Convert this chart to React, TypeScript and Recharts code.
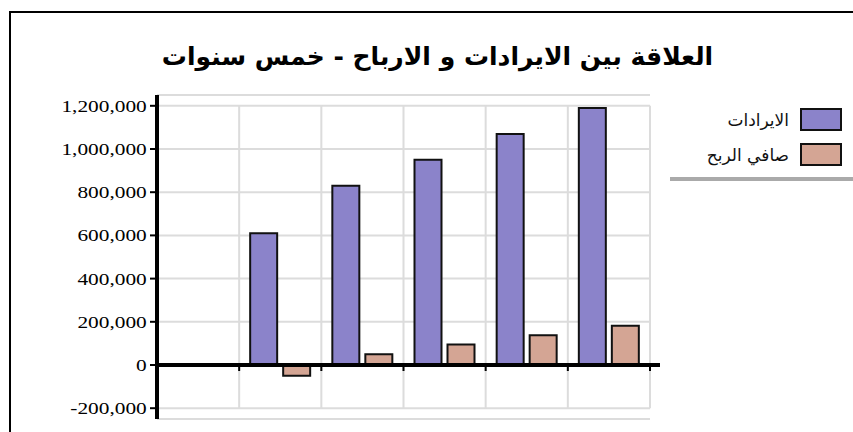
import { BarChart, Bar, XAxis, YAxis, CartesianGrid, ReferenceLine } from "recharts";

const years = ["0", "1", "2", "3", "4", "5"];
const revenue = [null, 610000, 830000, 950000, 1070000, 1190000];
const netProfit = [null, -50000, 50000, 95000, 138000, 182000];
const yTicks = [-200000, 0, 200000, 400000, 600000, 800000, 1000000, 1200000];
const yDomain = [-250000, 1250000];

const TITLE = "العلاقة بين الايرادات و الارباح - خمس سنوات";
const REVENUE_LABEL = "الايرادات";
const PROFIT_LABEL = "صافي الربح";

const PURPLE = "#8b83ca";
const SALMON = "#d4a594";
const GRID = "#dcdcdc";
const ARABIC_FONT = "'DejaVu Sans', sans-serif";

const data = years.map((y, i) => ({ year: y, revenue: revenue[i], profit: netProfit[i] }));

const fmt = (v: number) => v.toLocaleString("en-US");

// category boundaries (grid lines + x ticks sit between the bars groups)
const boundaryXs = (left: number, width: number) =>
  years.map((_, i) => left + ((i + 1) * width) / years.length);

function YTick({ x, y, payload }: any) {
  // labels in the reference are wider than plain Times, so stretch them a bit
  return (
    <text
      x={x}
      y={y}
      dx={-1}
      dy={6}
      textAnchor="end"
      fontFamily="'Liberation Serif', serif"
      fontSize={17.5}
      fill="#000"
      transform={`translate(${x},0) scale(1.22,1) translate(${-x},0)`}
    >
      {fmt(payload.value)}
    </text>
  );
}

// vertical grid only spans the ticked range, not the padded domain
function VLine({ x1, y1, x2, y2 }: any) {
  const span = yDomain[1] - yDomain[0];
  const top = y1 + ((yDomain[1] - yTicks[yTicks.length - 1]) / span) * (y2 - y1);
  const bottom = y2 - ((yTicks[0] - yDomain[0]) / span) * (y2 - y1);
  return <line x1={x1} y1={top} x2={x2} y2={bottom} stroke={GRID} strokeWidth={2} />;
}

function ZeroAxis({ x1, y1, x2 }: any) {
  return (
    <g>
      <line x1={x1} y1={y1} x2={x2 + 10} y2={y1} stroke="#000" strokeWidth={4} />
      {boundaryXs(x1, x2 - x1).map((bx) => (
        <line key={bx} x1={bx} y1={y1} x2={bx} y2={y1 + 6} stroke="#000" strokeWidth={2} />
      ))}
    </g>
  );
}

function LegendBox() {
  const rows = [
    { label: REVENUE_LABEL, color: PURPLE },
    { label: PROFIT_LABEL, color: SALMON },
  ];
  return (
    <div style={{ position: "absolute", top: 100, left: 660, width: 193, fontFamily: ARABIC_FONT }}>
      {rows.map((r, i) => (
        <div
          key={r.label}
          style={{
            display: "flex",
            justifyContent: "flex-end",
            alignItems: "center",
            marginTop: i === 0 ? 8 : 12,
            paddingRight: 11,
          }}
        >
          <span style={{ fontSize: 17, color: "#111", marginRight: 11, direction: "rtl" }}>{r.label}</span>
          <div style={{ width: 38, height: 19, background: r.color, border: "2px solid #111" }} />
        </div>
      ))}
      <div style={{ marginTop: 11, marginLeft: 10, height: 4, background: "#aaa" }} />
    </div>
  );
}

export default function App() {
  return (
    <div style={{ position: "fixed", left: 0, top: 0, width: 853, height: 432, overflow: "hidden", background: "#fff" }}>
      <div
        style={{
          position: "absolute",
          left: 9,
          top: 11,
          width: 900,
          height: 500,
          border: "2px solid #000",
        }}
      />
      <div
        style={{
          position: "absolute",
          left: 22,
          width: 831,
          top: 42,
          textAlign: "center",
          fontFamily: ARABIC_FONT,
          fontWeight: "bold",
          fontSize: 25,
          color: "#000",
          direction: "rtl",
        }}
      >
        {TITLE}
      </div>
      <div style={{ position: "absolute", left: 0, top: 0 }}>
        <BarChart
          width={853}
          height={432}
          data={data}
          margin={{ top: 95, right: 203, bottom: 13, left: 57 }}
          barCategoryGap={11}
          barGap={6}
        >
          <CartesianGrid
            stroke={GRID}
            strokeWidth={2}
            vertical={<VLine />}
            verticalCoordinatesGenerator={({ offset }: any) => boundaryXs(offset.left, offset.width)}
          />
          <XAxis dataKey="year" hide />
          <YAxis
            width={100}
            domain={yDomain}
            ticks={yTicks}
            interval={0}
            tick={<YTick />}
            axisLine={{ stroke: "#000", strokeWidth: 4 }}
            tickLine={{ stroke: "#000", strokeWidth: 2 }}
            tickSize={7}
          />
          <Bar dataKey="revenue" name={REVENUE_LABEL} fill={PURPLE} stroke="#111" strokeWidth={2} isAnimationActive={false} />
          <Bar dataKey="profit" name={PROFIT_LABEL} fill={SALMON} stroke="#111" strokeWidth={2} isAnimationActive={false} />
          <ReferenceLine y={0} shape={<ZeroAxis />} />
        </BarChart>
      </div>
      <LegendBox />
    </div>
  );
}
